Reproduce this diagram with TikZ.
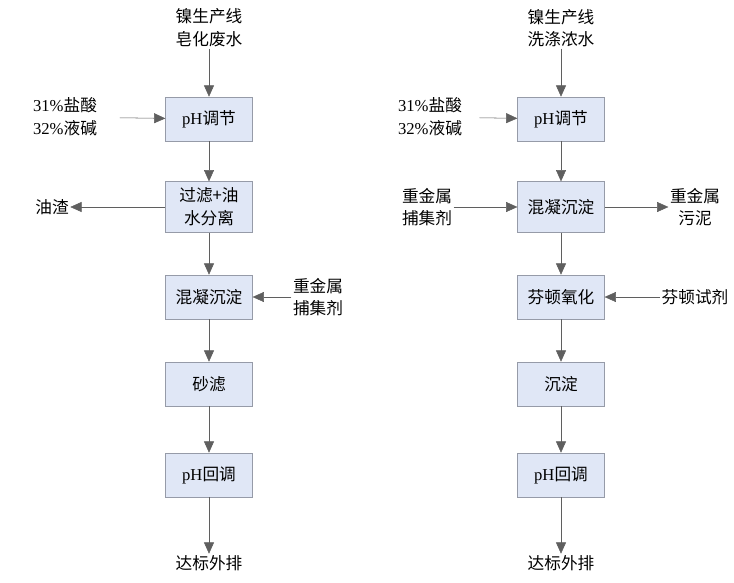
\documentclass[tikz,border=0pt]{standalone}
\usepackage{fontspec}
\setmainfont{Liberation Serif}
\newfontfamily\cjk{Noto Sans CJK SC}
\usetikzlibrary{arrows.meta}
\usetikzlibrary{calc,positioning}

\definecolor{boxfill}{RGB}{224,231,246}
\definecolor{boxline}{RGB}{150,155,168}
\definecolor{flowline}{RGB}{95,95,95}

\begin{document}
\begin{tikzpicture}[
    x=0.75pt, y=-0.75pt,
    font=\fontsize{12.5}{17}\selectfont,
    zh/.style={font=\fontsize{12.5}{17}\selectfont\cjk},
    unit/.style={draw=boxline, fill=boxfill, minimum width=65pt,
        minimum height=33pt, align=center, inner sep=1pt},
    lbl/.style={align=center, inner sep=1pt},
    flow/.style={draw=flowline, -{Triangle[length=8.5pt,width=7.5pt]}},
 ]
    \useasboundingbox (0,0) rectangle (734,582);

    % soap wastewater line
    \node[lbl,zh] (src1) at (209,28) {镍生产线\\皂化废水};
    \node[unit] (ph1) at (209,119) {pH{\cjk 调节}};
    \node[lbl] (acid1) at (65,117) {31\%{\cjk 盐酸}\\32\%{\cjk 液碱}};
    \node[unit,zh,minimum height=38pt] (flt1) at (209,207) {过滤+油\\水分离};
    \node[lbl,zh] (oil1) at (52,207) {油渣};
    \node[unit,zh] (cg1) at (209,297) {混凝沉淀};
    \node[lbl,zh] (cap1) at (318,297) {重金属\\捕集剂};
    \node[unit,zh] (sf1) at (209,384) {砂滤};
    \node[unit] (nb1) at (209,475) {pH{\cjk 回调}};
    \node[lbl,zh] (out1) at (209,563) {达标外排};

    \draw[flow] (src1) -- (ph1);
    \draw[flow, shorten <=16pt] (acid1) -- (ph1);
    \draw[flow] (ph1) -- (flt1);
    \draw[flow] (flt1) -- (oil1);
    \draw[flow] (flt1) -- (cg1);
    \draw[flow] (cap1) -- (cg1);
    \draw[flow] (cg1) -- (sf1);
    \draw[flow] (sf1) -- (nb1);
    \draw[flow] (nb1) -- (out1);

    % washing concentrate line
    \node[lbl,zh] (src2) at (561,28) {镍生产线\\洗涤浓水};
    \node[unit] (ph2) at (561,119) {pH{\cjk 调节}};
    \node[lbl] (acid2) at (430,117) {31\%{\cjk 盐酸}\\32\%{\cjk 液碱}};
    \node[unit,zh,minimum height=38pt] (cg2) at (561,207) {混凝沉淀};
    \node[lbl,zh] (cap2) at (427,207) {重金属\\捕集剂};
    \node[lbl,zh] (sl2) at (695,207) {重金属\\污泥};
    \node[unit,zh] (fen2) at (561,297) {芬顿氧化};
    \node[lbl,zh] (reag2) at (695,297) {芬顿试剂};
    \node[unit,zh] (sd2) at (561,384) {沉淀};
    \node[unit] (nb2) at (561,475) {pH{\cjk 回调}};
    \node[lbl,zh] (out2) at (561,563) {达标外排};

    \draw[flow] (src2) -- (ph2);
    \draw[flow, shorten <=12pt] (acid2) -- (ph2);
    \draw[flow] (ph2) -- (cg2);
    \draw[flow] (cap2) -- (cg2);
    \draw[flow] (cg2) -- (sl2);
    \draw[flow] (cg2) -- (fen2);
    \draw[flow] (reag2) -- (fen2);
    \draw[flow] (fen2) -- (sd2);
    \draw[flow] (sd2) -- (nb2);
    \draw[flow] (nb2) -- (out2);
\end{tikzpicture}
\end{document}
